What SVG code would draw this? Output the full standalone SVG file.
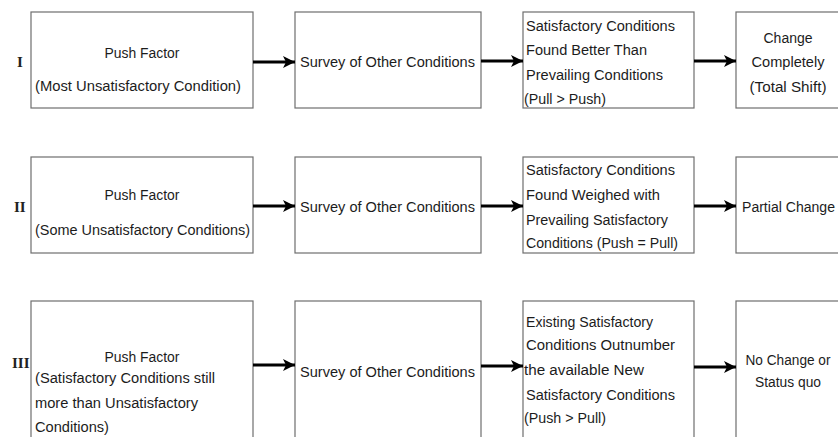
<svg xmlns="http://www.w3.org/2000/svg" width="838" height="437" viewBox="0 0 838 437">
<style>
.box{fill:#fff;stroke:#6e6e6e;stroke-width:1.2}
.t{font-family:"Liberation Sans",Arial,sans-serif;font-size:14px;fill:#1c1c1c}
.c{text-anchor:middle}
.rn{font-family:"Liberation Serif","Times New Roman",serif;font-size:15px;font-weight:bold;fill:#222}
.arr{stroke:#000;stroke-width:3;fill:none;marker-end:url(#ah)}
</style>
<defs>
<marker id="ah" markerUnits="userSpaceOnUse" markerWidth="14" markerHeight="14" refX="12" refY="6" orient="auto">
<path d="M0,0 L12,6 L0,12 L3,6 Z" fill="#000"/>
</marker>
</defs>
<rect width="838" height="437" fill="#fff"/>
<g id="labels">
<text class="rn" x="17" y="67">I</text>
<text class="rn" x="14" y="212">II</text>
<text class="rn" x="12" y="368">III</text>
</g>
<g id="row1-push">
<rect class="box" x="31" y="12" width="222" height="96"/>
<text class="t c" x="142" y="58" textLength="75" lengthAdjust="spacingAndGlyphs">Push Factor</text>
<text class="t" x="35" y="91" textLength="206" lengthAdjust="spacingAndGlyphs">(Most Unsatisfactory Condition)</text>
</g>
<g id="row1-survey">
<rect class="box" x="295" y="12" width="186" height="96"/>
<text class="t" x="300" y="67" textLength="175" lengthAdjust="spacingAndGlyphs">Survey of Other Conditions</text>
</g>
<g id="row1-cond">
<rect class="box" x="523" y="12" width="171" height="96"/>
<text class="t" x="526" y="31" textLength="149" lengthAdjust="spacingAndGlyphs">Satisfactory Conditions</text>
<text class="t" x="526" y="55" textLength="121" lengthAdjust="spacingAndGlyphs">Found Better Than</text>
<text class="t" x="526" y="80" textLength="137" lengthAdjust="spacingAndGlyphs">Prevailing Conditions</text>
<text class="t" x="524" y="104" textLength="82" lengthAdjust="spacingAndGlyphs">(Pull &gt; Push)</text>
</g>
<g id="row1-result">
<rect class="box" x="736" y="12" width="110" height="96"/>
<text class="t c" x="788" y="43" textLength="49" lengthAdjust="spacingAndGlyphs">Change</text>
<text class="t c" x="788" y="67" textLength="73" lengthAdjust="spacingAndGlyphs">Completely</text>
<text class="t c" x="788" y="92" textLength="77" lengthAdjust="spacingAndGlyphs">(Total Shift)</text>
</g>
<g id="row2-push">
<rect class="box" x="31" y="157" width="222" height="96"/>
<text class="t c" x="142" y="200" textLength="75" lengthAdjust="spacingAndGlyphs">Push Factor</text>
<text class="t" x="35" y="235" textLength="215" lengthAdjust="spacingAndGlyphs">(Some Unsatisfactory Conditions)</text>
</g>
<g id="row2-survey">
<rect class="box" x="295" y="157" width="186" height="96"/>
<text class="t" x="300" y="212" textLength="175" lengthAdjust="spacingAndGlyphs">Survey of Other Conditions</text>
</g>
<g id="row2-cond">
<rect class="box" x="523" y="157" width="171" height="96"/>
<text class="t" x="526" y="175" textLength="149" lengthAdjust="spacingAndGlyphs">Satisfactory Conditions</text>
<text class="t" x="526" y="200" textLength="134" lengthAdjust="spacingAndGlyphs">Found Weighed with</text>
<text class="t" x="526" y="225" textLength="142" lengthAdjust="spacingAndGlyphs">Prevailing Satisfactory</text>
<text class="t" x="526" y="248" textLength="152" lengthAdjust="spacingAndGlyphs">Conditions (Push = Pull)</text>
</g>
<g id="row2-result">
<rect class="box" x="736" y="157" width="110" height="96"/>
<text class="t" x="742" y="212" textLength="93" lengthAdjust="spacingAndGlyphs">Partial Change</text>
</g>
<g id="row3-push">
<rect class="box" x="31" y="301" width="222" height="150"/>
<text class="t c" x="142" y="362" textLength="75" lengthAdjust="spacingAndGlyphs">Push Factor</text>
<text class="t" x="35" y="383" textLength="180" lengthAdjust="spacingAndGlyphs">(Satisfactory Conditions still</text>
<text class="t" x="35" y="408" textLength="163" lengthAdjust="spacingAndGlyphs">more than Unsatisfactory</text>
<text class="t" x="35" y="432" textLength="74" lengthAdjust="spacingAndGlyphs">Conditions)</text>
</g>
<g id="row3-survey">
<rect class="box" x="295" y="301" width="186" height="150"/>
<text class="t" x="300" y="377" textLength="175" lengthAdjust="spacingAndGlyphs">Survey of Other Conditions</text>
</g>
<g id="row3-cond">
<rect class="box" x="523" y="301" width="171" height="150"/>
<text class="t" x="526" y="327" textLength="127" lengthAdjust="spacingAndGlyphs">Existing Satisfactory</text>
<text class="t" x="526" y="350" textLength="149" lengthAdjust="spacingAndGlyphs">Conditions Outnumber</text>
<text class="t" x="524" y="375" textLength="120" lengthAdjust="spacingAndGlyphs">the available New</text>
<text class="t" x="526" y="400" textLength="149" lengthAdjust="spacingAndGlyphs">Satisfactory Conditions</text>
<text class="t" x="524" y="423" textLength="82" lengthAdjust="spacingAndGlyphs">(Push &gt; Pull)</text>
</g>
<g id="row3-result">
<rect class="box" x="736" y="301" width="110" height="150"/>
<text class="t c" x="788" y="365" textLength="85" lengthAdjust="spacingAndGlyphs">No Change or</text>
<text class="t c" x="788" y="387" textLength="66" lengthAdjust="spacingAndGlyphs">Status quo</text>
</g>
<g id="connectors">
<path class="arr" d="M253,62 H295"/>
<path class="arr" d="M481,61 H523"/>
<path class="arr" d="M694,61 H736"/>
<path class="arr" d="M253,206 H295"/>
<path class="arr" d="M481,206 H523"/>
<path class="arr" d="M694,206 H736"/>
<path class="arr" d="M253,365 H295"/>
<path class="arr" d="M481,366 H523"/>
<path class="arr" d="M694,367 H736"/>
</g>
</svg>
